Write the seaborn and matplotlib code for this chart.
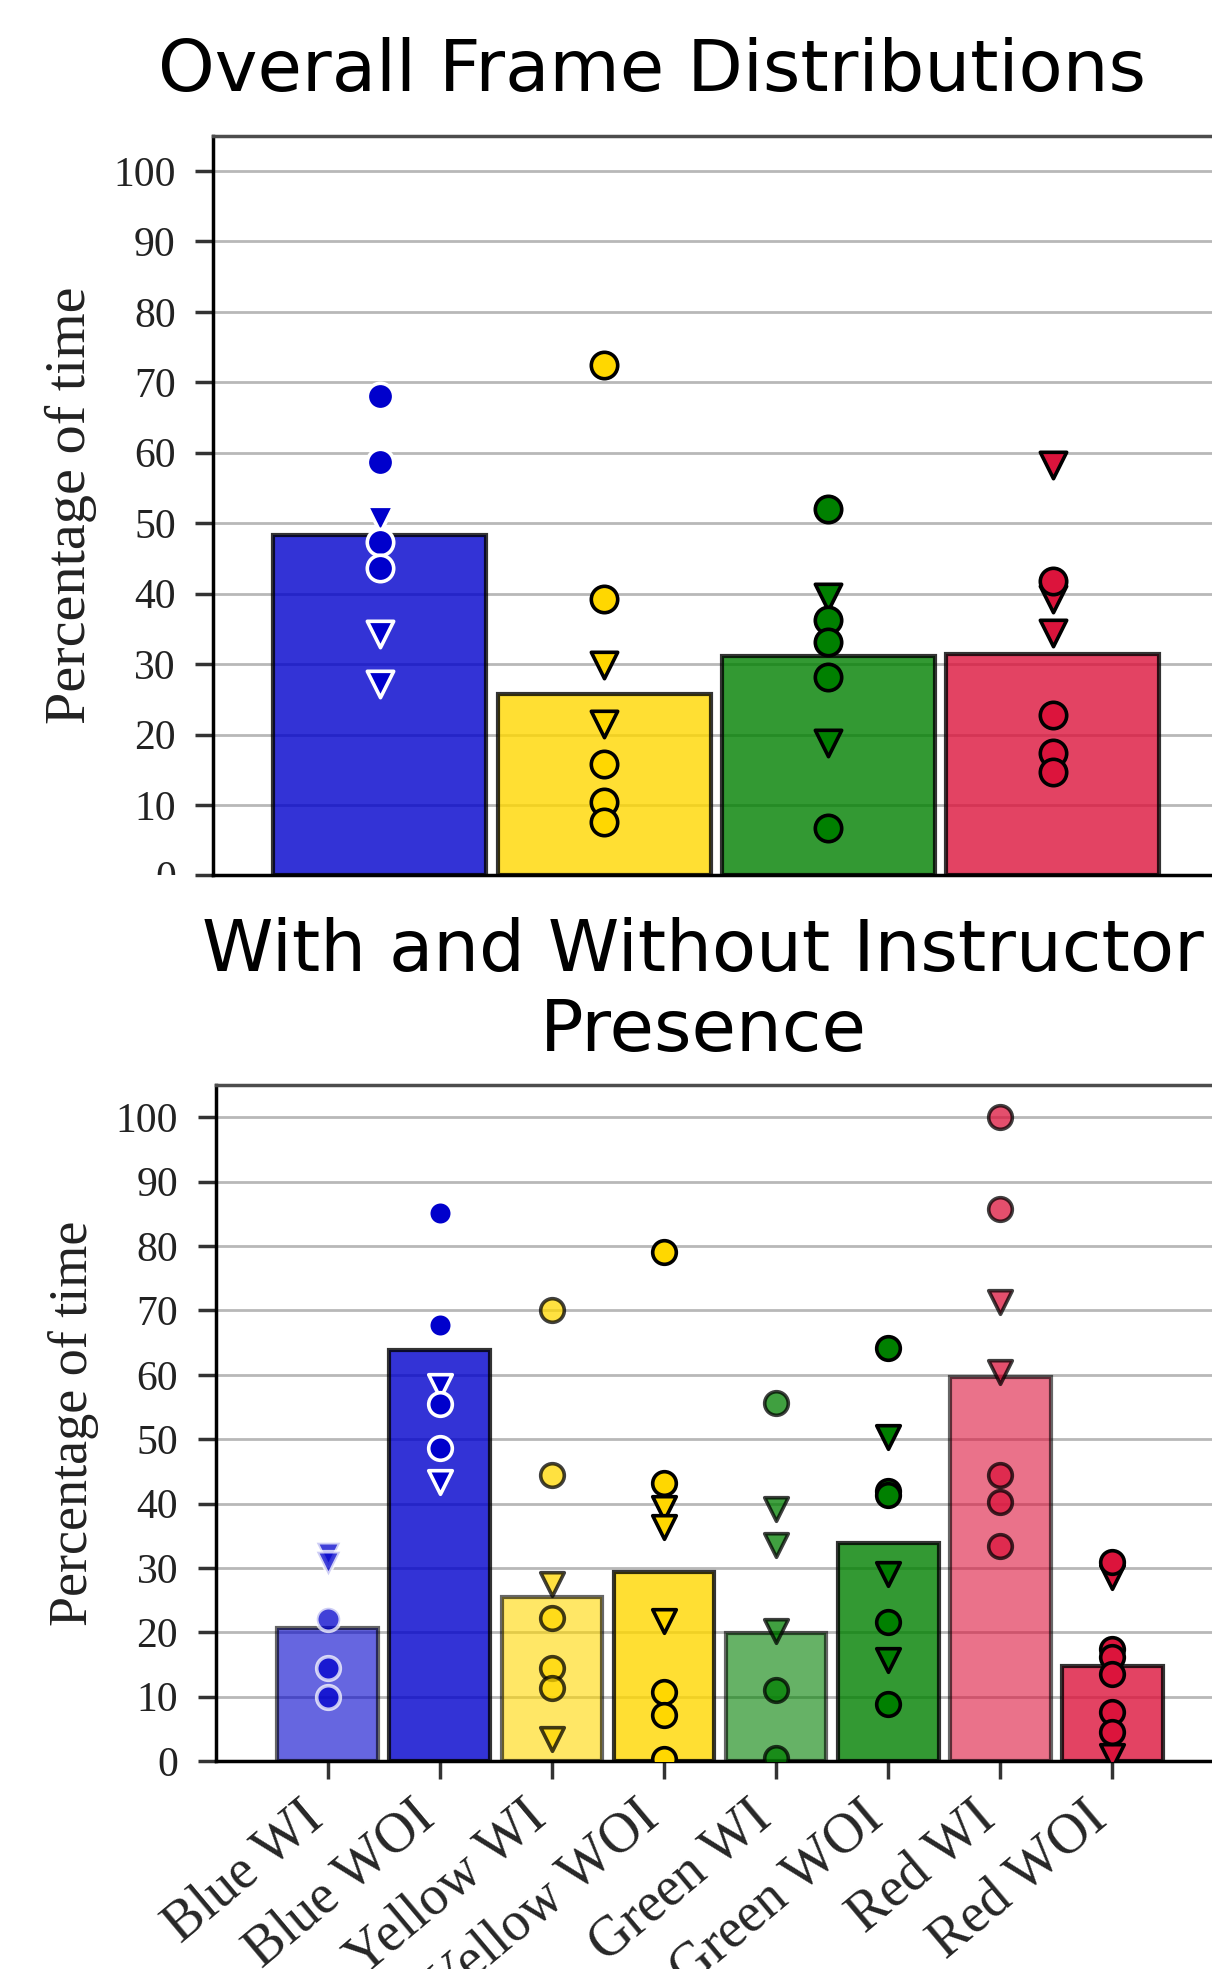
import pandas as pd
import matplotlib
matplotlib.use("Agg")
import matplotlib.pyplot as plt
import seaborn as sns
from matplotlib.transforms import Bbox, TransformedBbox, ScaledTranslation

#%%
# Colores base
blue = "#0000CC"
yellow = "#FFD700"
green = "#008000"
red = "#DC143C"

#%%
# Panel de arriba: distribucion general
top_cats = ["Blue", "Yellow", "Green", "Red"]
top_colors = [blue, yellow, green, red]
top_bars = [48.3, 25.8, 31.2, 31.4]
top_circles = [
    [68.0, 58.7, 47.3, 43.7],
    [72.4, 39.2, 15.8, 10.4, 7.6],
    [52.0, 36.2, 33.2, 28.1, 6.7],
    [41.8, 22.8, 17.4, 14.7],
]
top_tris = [
    [50.6, 34.3, 27.1],
    [29.9, 21.5],
    [39.5, 18.8],
    [58.2, 39.2, 34.4],
]

#%%
# Panel de abajo: con y sin instructor
bot_cats = ["Blue WI", "Blue WOI", "Yellow WI", "Yellow WOI",
            "Green WI", "Green WOI", "Red WI", "Red WOI"]
bot_colors = [blue, blue, yellow, yellow, green, green, red, red]
bot_bars = [20.7, 63.9, 25.5, 29.4, 19.9, 33.9, 59.7, 14.7]
bot_circles = [
    [22.1, 14.5, 10.0],
    [85.2, 67.8, 55.5, 48.7],
    [70.0, 44.5, 22.2, 14.5, 11.3],
    [79.0, 43.2, 10.8, 7.2, 0.3],
    [55.6, 11.0, 0.5],
    [64.2, 42.0, 41.3, 21.6, 8.8],
    [100.0, 85.7, 44.5, 40.2, 33.4],
    [30.9, 17.4, 16.2, 13.6, 7.7, 4.5],
]
bot_tris = [
    [32.2, 30.8],
    [58.3, 43.3],
    [27.5, 3.5],
    [39.3, 36.3, 21.7],
    [39.2, 33.5, 20.2],
    [50.3, 29.0, 15.7],
    [71.3, 60.4],
    [28.6, 0.8],
]

#%%
sns.set_style("white")
plt.rcParams["font.family"] = ["Liberation Serif", "DejaVu Serif"]

fig = plt.figure(figsize=(12.12, 19.69), dpi=100)
ax1 = fig.add_axes([0.176, 0.5554, 0.824, 0.3757])
ax2 = fig.add_axes([0.178, 0.1056, 0.822, 0.3433])


def panel(ax, cats, colors, bars, circles, tris, bar_alpha, pt_alpha,
          width, ms, ylab_size):
    bdf = pd.DataFrame({"cat": cats, "val": bars})
    sns.barplot(data=bdf, x="cat", y="val", hue="cat", order=cats,
                hue_order=cats, palette=colors, width=width, saturation=1,
                edgecolor="black", linewidth=3, errorbar=None,
                legend=False, ax=ax, zorder=2)
    for p, a in zip(ax.patches, bar_alpha):
        p.set_alpha(a)

    # primero triangulos, despues circulos encima
    for marker, groups in (("v", tris), ("o", circles)):
        for i, vals in enumerate(groups):
            if len(vals) == 0:
                continue
            ec = "white" if colors[i] == blue else "black"
            sdf = pd.DataFrame({"cat": [cats[i]] * len(vals), "val": vals})
            sns.stripplot(data=sdf, x="cat", y="val", order=cats,
                          color=colors[i], marker=marker, size=ms,
                          edgecolor=ec, linewidth=2.6, jitter=False,
                          alpha=pt_alpha[i], ax=ax, zorder=3)

    ax.set_ylim(0, 105)
    ax.set_yticks(range(0, 101, 10))
    ax.yaxis.grid(True, color="#b8b8b8", linewidth=2)
    ax.xaxis.grid(False)
    ax.set_axisbelow(True)
    ax.spines["right"].set_visible(False)
    ax.spines["top"].set_color("#4d4d4d")
    for s in ["left", "bottom"]:
        ax.spines[s].set_color("black")
    for s in ["left", "bottom", "top"]:
        ax.spines[s].set_linewidth(2.5)
    ax.tick_params(axis="y", direction="out", length=13, width=2.5,
                   color="#333333", pad=14, labelsize=30,
                   labelcolor="#222222", left=True)
    ax.set_xlabel("")
    ax.set_ylabel("Percentage of time", fontsize=ylab_size, labelpad=12,
                  color="#222222")


panel(ax1, top_cats, top_colors, top_bars, top_circles, top_tris,
      [0.8] * 4, [1.0] * 4, 0.95, 19, 42)
panel(ax2, bot_cats, bot_colors, bot_bars, bot_circles, bot_tris,
      [0.6, 0.8] * 4, [0.75, 1.0] * 4, 0.9, 17, 39)

ax1.set_xlim(-0.743, 3.71)
ax1.tick_params(axis="x", bottom=False, labelbottom=False)

ax2.set_xlim(-1.0, 7.89)
ax2.set_xticks(range(len(bot_cats)))
ax2.set_xticklabels(bot_cats, rotation=40, ha="right", va="center",
                    rotation_mode="anchor", fontsize=40)
ax2.tick_params(axis="x", direction="out", length=13, width=2.5,
                color="#333333", pad=34, bottom=True)
shift = ScaledTranslation(-0.12, 0.15, fig.dpi_scale_trans)
for lab in ax2.get_xticklabels():
    lab.set_transform(lab.get_transform() + shift)

# el "0" de arriba queda cortado por el panel de abajo
y0 = ax1.get_position().y0
clip = TransformedBbox(Bbox([[0, y0], [1, 1]]), fig.transFigure)
for lab in ax1.get_yticklabels():
    lab.set_clip_box(clip)
    lab.set_clip_on(True)

# titulos
fig.text(0.538, 0.9636, "Overall Frame Distributions", ha="center",
         va="center", fontsize=52, family="DejaVu Sans", color="black")
fig.text(0.58, 0.4964, "With and Without Instructor\nPresence", ha="center",
         va="center", fontsize=52, family="DejaVu Sans", color="black",
         multialignment="center", linespacing=1.2)

fig.savefig("out.png", dpi=100)
